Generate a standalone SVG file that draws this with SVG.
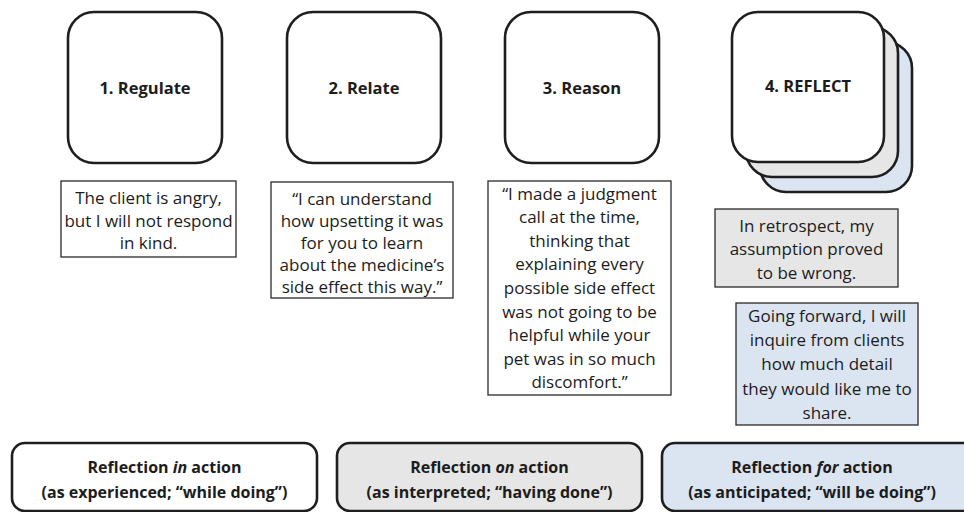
<svg xmlns="http://www.w3.org/2000/svg" width="964" height="512" viewBox="0 0 964 512">
  <style>
    .card { stroke: #1e1e1e; stroke-width: 2.6; }
    .note { stroke: #2a2a2a; stroke-width: 1.3; }
    .white { fill: #ffffff; }
    .grey { fill: #e6e6e6; }
    .blue { fill: #dbe4f1; }
    text { font-family: "Open Sans", Lato, "Liberation Sans", sans-serif; fill: #1c1c1c; text-anchor: middle; dominant-baseline: central; }
    .title { font-size: 16.5px; font-weight: bold; }
    .body { font-size: 17px; }
    .mode { font-size: 16px; font-weight: bold; }
  </style>

  <!-- step 1 -->
  <g id="regulate">
    <rect class="card white" x="68" y="12" width="154" height="151" rx="26"/>
    <text class="title" x="145" y="87">1. Regulate</text>
  </g>
  <g id="regulate-note">
    <rect class="note white" x="61" y="181" width="175" height="76"/>
    <text class="body" x="148.5" y="197">The client is angry,</text>
    <text class="body" x="148.5" y="220">but I will not respond</text>
    <text class="body" x="148.5" y="242">in kind.</text>
  </g>

  <!-- step 2 -->
  <g id="relate">
    <rect class="card white" x="287" y="12" width="154" height="151" rx="26"/>
    <text class="title" x="364" y="87">2. Relate</text>
  </g>
  <g id="relate-note">
    <rect class="note white" x="271" y="182" width="182" height="116"/>
    <text class="body" x="362" y="198">“I can understand</text>
    <text class="body" x="362" y="220">how upsetting it was</text>
    <text class="body" x="362" y="242">for you to learn</text>
    <text class="body" x="362" y="264">about the medicine’s</text>
    <text class="body" x="362" y="286">side effect this way.”</text>
  </g>

  <!-- step 3 -->
  <g id="reason">
    <rect class="card white" x="505" y="12" width="154" height="151" rx="26"/>
    <text class="title" x="582" y="87">3. Reason</text>
  </g>
  <g id="reason-note">
    <rect class="note white" x="488" y="181" width="183" height="214"/>
    <text class="body" x="579.5" y="193">“I made a judgment</text>
    <text class="body" x="579.5" y="216.6">call at the time,</text>
    <text class="body" x="579.5" y="240.2">thinking that</text>
    <text class="body" x="579.5" y="263.8">explaining every</text>
    <text class="body" x="579.5" y="287.4">possible side effect</text>
    <text class="body" x="579.5" y="311">was not going to be</text>
    <text class="body" x="579.5" y="334.6">helpful while your</text>
    <text class="body" x="579.5" y="358.2">pet was in so much</text>
    <text class="body" x="579.5" y="381.8">discomfort.”</text>
  </g>

  <!-- step 4: stacked cards -->
  <g id="reflect">
    <rect class="card blue" x="760" y="42" width="152" height="150" rx="26"/>
    <rect class="card grey" x="746" y="27" width="152" height="150" rx="26"/>
    <rect class="card white" x="732" y="12" width="152" height="150" rx="26"/>
    <text class="title" x="808" y="85">4. REFLECT</text>
  </g>
  <g id="reflect-note-on">
    <rect class="note grey" x="715" y="209" width="183" height="78"/>
    <text class="body" x="806.5" y="225">In retrospect, my</text>
    <text class="body" x="806.5" y="248.5">assumption proved</text>
    <text class="body" x="806.5" y="272">to be wrong.</text>
  </g>
  <g id="reflect-note-for">
    <rect class="note blue" x="736" y="303" width="182" height="122"/>
    <text class="body" x="827" y="315">Going forward, I will</text>
    <text class="body" x="827" y="339.5">inquire from clients</text>
    <text class="body" x="827" y="363.5">how much detail</text>
    <text class="body" x="827" y="388">they would like me to</text>
    <text class="body" x="827" y="412">share.</text>
  </g>

  <!-- reflection modes -->
  <g id="mode-in">
    <rect class="card white" x="12" y="443" width="305" height="68" rx="13"/>
    <text class="mode" x="164.5" y="467">Reflection <tspan font-style="italic">in</tspan> action</text>
    <text class="mode" x="164.5" y="492">(as experienced; “while doing”)</text>
  </g>
  <g id="mode-on">
    <rect class="card grey" x="337" y="443" width="305" height="68" rx="13"/>
    <text class="mode" x="489.5" y="467">Reflection <tspan font-style="italic">on</tspan> action</text>
    <text class="mode" x="489.5" y="492">(as interpreted; “having done”)</text>
  </g>
  <g id="mode-for">
    <rect class="card blue" x="662" y="443" width="330" height="68" rx="13"/>
    <text class="mode" x="812" y="467">Reflection <tspan font-style="italic">for</tspan> action</text>
    <text class="mode" x="812" y="492">(as anticipated; “will be doing”)</text>
  </g>

  <g id="connectors"/>
</svg>
